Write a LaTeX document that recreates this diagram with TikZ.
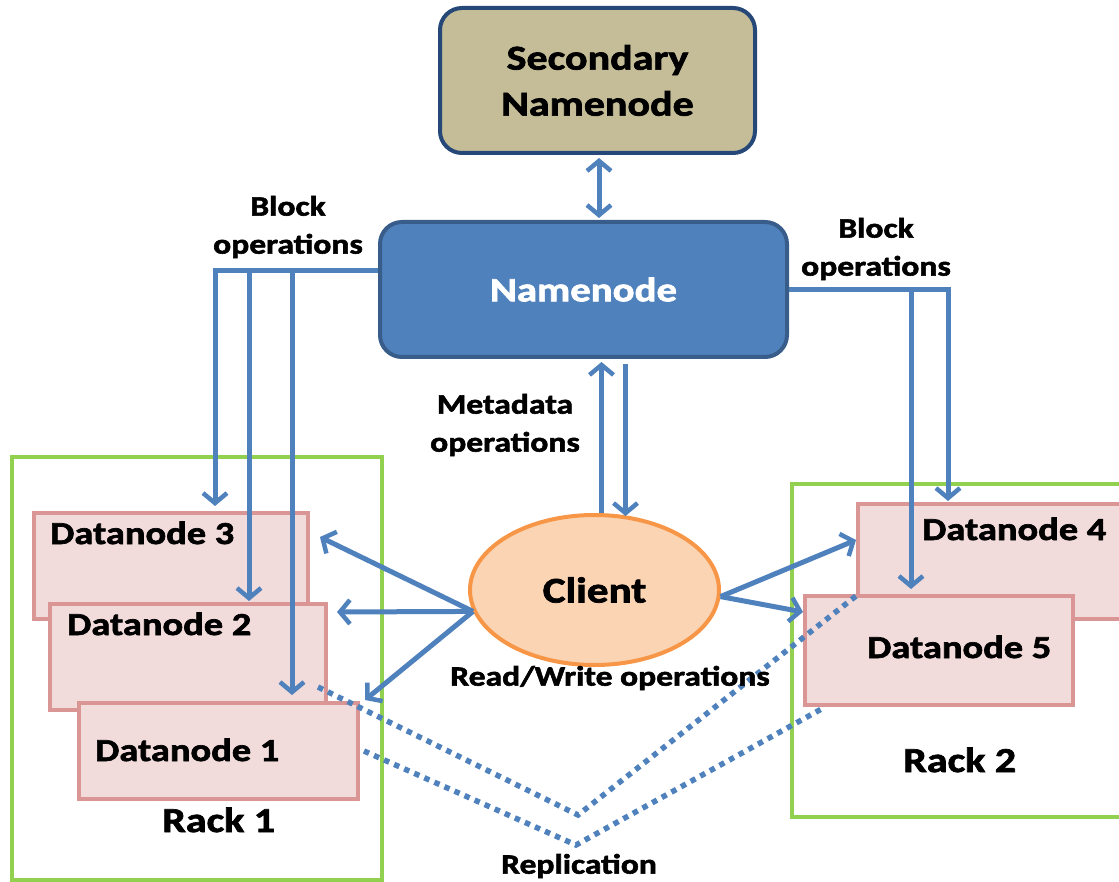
\documentclass[tikz,border=0pt]{standalone}
\usepackage{fontspec}
\setmainfont{Carlito}[FakeStretch=1.2, BoldFeatures={FakeBold=2}]
\usetikzlibrary{calc}
\usetikzlibrary{arrows.meta}
\usetikzlibrary{shapes.geometric}

\definecolor{flowblue}{HTML}{4F81BD}
\definecolor{nameblue}{HTML}{4F81BD}
\definecolor{nameedge}{HTML}{385D8A}
\definecolor{secfill}{HTML}{C4BD97}
\definecolor{secedge}{HTML}{254878}
\definecolor{clientfill}{HTML}{FBD4B4}
\definecolor{clientedge}{HTML}{F79646}
\definecolor{dnfill}{HTML}{F2DCDB}
\definecolor{dnedge}{HTML}{D99694}
\definecolor{rackgreen}{HTML}{92D050}

\begin{document}
\begin{tikzpicture}[x=1pt, y=-1pt,
    >={Straight Barb[length=10pt,width=24pt,line width=4.5pt]},
    flow/.style={draw=flowblue, line width=5pt, ->},
    replic/.style={draw=flowblue, line width=5.5pt, dash pattern=on 5.5pt off 5.5pt},
    rack/.style={draw=rackgreen, line width=4pt, minimum width=#1, inner sep=0},
    datanode/.style={draw=dnedge, fill=dnfill, line width=4pt, inner sep=0},
    lbl/.style={font=\bfseries\fontsize{28}{38}\selectfont, align=center, inner sep=0},
    dnlbl/.style={font=\bfseries\fontsize{32}{36}\selectfont, inner sep=0, anchor=base west}]

    \useasboundingbox (0,0) rectangle (1119,882);
    \clip (0,0) rectangle (1119,882);

    % racks
    \node[rack=370pt, minimum height=423pt] (rack1) at (197,668.5) {};
    \node[rack=338pt, minimum height=333pt] (rack2) at (961,650.5) {};

    % secondary namenode and namenode
    \node[draw=secedge, fill=secfill, line width=4pt, rounded corners=22pt,
          minimum width=315pt, minimum height=145pt, align=center,
          font=\bfseries\fontsize{35}{46}\selectfont] (sec) at (597.5,80.5) {Secondary\\Namenode};
    \node[draw=nameedge, fill=nameblue, line width=4pt, rounded corners=22pt,
          minimum width=407pt, minimum height=135pt, text=white,
          font=\bfseries\fontsize{34}{40}\selectfont] (nn) at (583.5,289.5) {Namenode};

    % client
    \node[ellipse, draw=clientedge, fill=clientfill, line width=4pt, inner sep=0,
          minimum width=249pt, minimum height=150pt,
          font=\bfseries\fontsize{36}{40}\selectfont] (client) at (594.5,590) {Client};

    % datanodes of rack 1
    \node[datanode, minimum width=274pt, minimum height=106pt] (dn3) at (171,566) {};
    \node[datanode, minimum width=276pt, minimum height=106pt] (dn2) at (188,657) {};
    \node[datanode, minimum width=279pt, minimum height=96pt] (dn1) at (218.5,751) {};
    \node[dnlbl] (dn3txt) at (50,544) {Datanode 3};
    \node[dnlbl] (dn2txt) at (67,635) {Datanode 2};
    \node[dnlbl] (dn1txt) at (95,761) {Datanode 1};

    % datanodes of rack 2
    \node[datanode, minimum width=276pt, minimum height=115pt] (dn4) at (996,561.5) {};
    \node[datanode, minimum width=268pt, minimum height=109pt] (dn5) at (939,650.5) {};
    \node[dnlbl] (dn4txt) at (922,540) {Datanode 4};
    \node[dnlbl] (dn5txt) at (867,658) {Datanode 5};

    % rack names
    \node[dnlbl, font=\bfseries\fontsize{35}{40}\selectfont] (rack1txt) at (162,832) {Rack 1};
    \node[dnlbl, font=\bfseries\fontsize{35}{40}\selectfont] (rack2txt) at (903,772) {Rack 2};

    % namenode links
    \draw[flow, <->] ($(sec.south)+(1.5,3)$) -- ($(sec.south |- nn.north)+(1.5,-2)$);
    \draw[flow] ($(client.north)+(7,0)$) -- ($(nn.south)+(18,3)$);
    \draw[flow] ($(nn.south)+(42,5)$) -- ($(client.north)+(31,3)$);

    % block operations
    \coordinate (blkL) at ($(nn.west)+(0,-18.5)$);
    \draw[flow] (blkL) -| ($(dn3.north)+(44,-5)$);
    \draw[flow] (blkL) -| ($(dn2.north)+(61,-1)$);
    \draw[flow] (blkL) -| ($(dn1.north)+(73.5,-6)$);
    \draw[flow] (nn.east) -| ($(dn4.north)+(-48,-1)$);
    \draw[flow] (nn.east) -| ($(dn5.north)+(-28,-5)$);

    % read/write
    \draw[flow] (client.190) -- ($(dn3.east)+(10,-29)$);
    \draw[flow] (client.190) -- ($(dn2.east)+(9,-45)$);
    \draw[flow] (client.190) -- ($(dn1.north east)+(5,-1)$);
    \draw[flow] (client.-3) -- ($(dn4.west)+(0,-21.5)$);
    \draw[flow] (client.-3) -- ($(dn5.west)+(0,-38.5)$);

    % replication
    \coordinate (repA) at (578,815);
    \coordinate (repB) at (576,845);
    \draw[replic] ($(dn2.south east)+(-10,-25)$) -- (repA) -- ($(dn4.south west)+(0,-25)$);
    \draw[replic] ($(dn1.east)+(4,0)$) -- (repB) -- ($(dn5.south west)+(22,0)$);

    % add text
    \node[lbl] (blkLtxt) at (288,227) {Block\\operations};
    \node[lbl] (blkRtxt) at (876,249) {Block\\operations};
    \node[lbl] (metatxt) at (505,425) {Metadata\\operations};
    \node[lbl] (rwtxt) at (610,678) {Read/Write operations};
    \node[lbl] (reptxt) at (579,866) {Replication};

\end{tikzpicture}
\end{document}
